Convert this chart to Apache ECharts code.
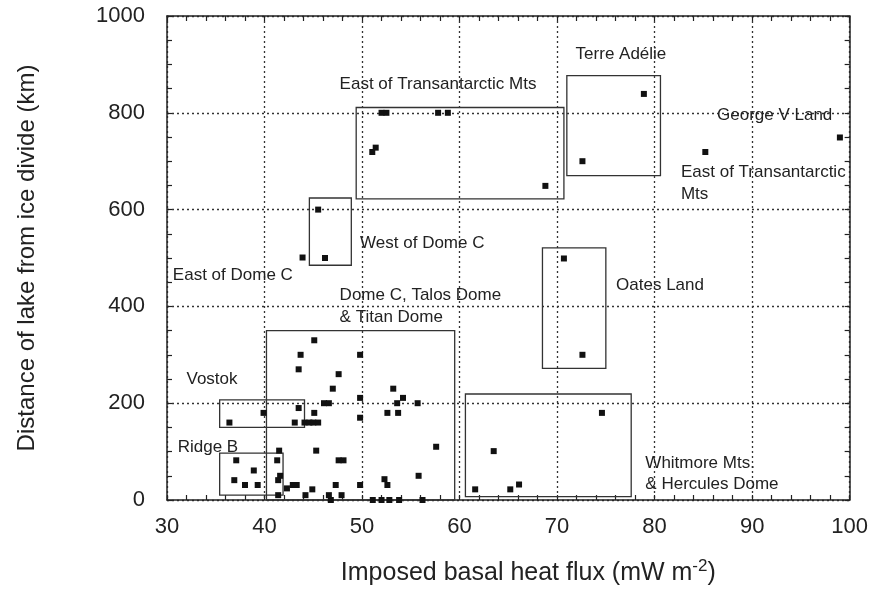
<!DOCTYPE html>
<html>
<head>
<meta charset="utf-8">
<script src="https://cdn.jsdelivr.net/npm/echarts@6/dist/echarts.min.js"></script>
<style>
html,body{margin:0;padding:0;background:#fff;overflow:hidden;width:871px;height:591px;}
#c{width:871px;height:591px;position:absolute;left:0;top:0;}
</style>
</head>
<body>
<div id="c"></div>
<script>
// Lakes: [imposed basal heat flux (mW m-2), distance from ice divide (km)]
var lakes = [
  [43.7,300],[43.5,270],[39.9,180],[43.5,190],[36.4,160],[43.1,160],[44.1,160],
  [44.6,160],[45.0,160],[45.5,160],[41.5,102],[37.1,82],[41.3,82],[38.9,61],
  [41.6,50],[36.9,41],[41.4,41],[38.0,31],[39.3,31],[41.4,10],[42.3,24],
  [42.9,31],[43.3,31],[44.2,10],[45.1,330],[49.8,300],[47.6,260],[47.0,230],
  [49.8,211],[53.2,230],[54.2,211],[53.6,200],[46.1,200],[46.6,200],[55.7,200],
  [45.1,180],[52.6,180],[53.7,180],[49.8,170],[45.3,102],[47.6,82],[48.1,82],
  [57.6,110],[55.8,50],[52.3,43],[52.6,31],[47.3,31],[49.8,31],[44.9,22],
  [46.6,10],[46.8,0],[47.9,10],[51.1,0],[52.0,0],[52.8,0],[53.8,0],[56.2,0],
  [45.5,600],[43.9,501],[46.2,500],
  [52.0,800],[52.5,800],[57.8,800],[58.8,800],[51.4,728],[51.05,719],[68.8,649],
  [72.6,700],[78.9,839],[85.2,719],[99.0,749],
  [70.7,499],[72.6,300],
  [61.6,22],[63.5,101],[65.2,22],[66.1,32],[74.6,180]
];
// Region boxes: [xMin, yMin, xMax, yMax]
var boxes = [
  [49.4,622,70.7,811],
  [71.0,670,80.6,877],
  [44.6,485,48.9,624],
  [40.2,0,59.5,350],
  [68.5,272,75.0,521],
  [35.4,150,44.1,207],
  [35.4,10,41.9,97],
  [60.6,7,77.6,219]
];
// Region labels: [x, y, text] (left edge, vertical middle)
var regionLabels = [
  [47.7,859,'East of Transantarctic Mts'],
  [71.9,920,'Terre Adélie'],
  [86.4,795,'George V Land'],
  [82.7,678,'East of Transantarctic'],
  [82.7,632,'Mts'],
  [49.8,530,'West of Dome C'],
  [30.6,465,'East of Dome C'],
  [47.7,423,'Dome C, Talos Dome'],
  [47.7,377,'& Titan Dome'],
  [76.05,443,'Oates Land'],
  [32.0,249,'Vostok'],
  [31.1,109,'Ridge B'],
  [79.05,76,'Whitmore Mts.'],
  [79.05,33,'& Hercules Dome']
];
var xTicks = {min:30, max:100, interval:10};
var yTicks = {min:0, max:1000, interval:200};

var FONT = '"Liberation Sans", Arial, Helvetica, sans-serif';
var INK = '#222';

function axisBase(t, split, minorN){
  return {
    type:'value', min:t.min, max:t.max, interval:t.interval,
    axisLine:{show:true, onZero:false, lineStyle:{color:INK, width:1.5}},
    axisTick:{show:true, inside:true, length:5, lineStyle:{color:INK, width:1.2}},
    minorTick:{show:true, splitNumber:minorN, length:5, lineStyle:{color:INK, width:1.2}},
    minorSplitLine:{show:false},
    splitLine:{show:split, lineStyle:{color:'#333', type:[2,3], width:1.3}}
  };
}
function plain(v){ return String(v); }

var xMain = axisBase(xTicks, true, 5);
xMain.position = 'bottom';
xMain.axisLabel = {color:INK, fontSize:22, fontFamily:FONT, margin:16, formatter:plain};
xMain.name = '{a|Imposed basal heat flux (mW m}{s|-2}{a|)}';
xMain.nameLocation = 'middle';
xMain.nameGap = 58;
xMain.nameTextStyle = {padding:[0,0,0,40], rich:{
  a:{fontSize:25, fontFamily:FONT, color:INK, verticalAlign:'bottom', lineHeight:28},
  s:{fontSize:17, fontFamily:FONT, color:INK, verticalAlign:'top', lineHeight:28, padding:[0,0,9,0]}
}};
var xTop = axisBase(xTicks, false, 5);
xTop.position = 'top';
xTop.axisLabel = {show:false};

var yMain = axisBase(yTicks, true, 4);
yMain.position = 'left';
yMain.axisLabel = {color:INK, fontSize:22, fontFamily:FONT, margin:22, formatter:plain};
yMain.name = 'Distance of lake from ice divide (km)';
yMain.nameLocation = 'middle';
yMain.nameGap = 128;
yMain.nameTextStyle = {fontSize:24, fontFamily:FONT, color:INK};
var yRight = axisBase(yTicks, false, 4);
yRight.position = 'right';
yRight.axisLabel = {show:false};

var chart = echarts.init(document.getElementById('c'), null, {renderer:'canvas', width:871, height:591});
chart.setOption({
  backgroundColor:'#fff',
  animation:false,
  grid:{left:167, right:9, top:16, bottom:84, containLabel:false},
  xAxis:[xMain, xTop],
  yAxis:[yMain, yRight],
  series:[
    {
      type:'scatter', xAxisIndex:0, yAxisIndex:0,
      symbol:'rect', symbolSize:6,
      itemStyle:{color:'#111', opacity:1},
      data:lakes,
      z:5,
      markArea:{
        silent:true,
        itemStyle:{color:'rgba(0,0,0,0)', borderColor:'#333', borderWidth:1.3},
        data:boxes.map(function(b){return [{coord:[b[0],b[1]]},{coord:[b[2],b[3]]}];})
      }
    },
    {
      type:'scatter', xAxisIndex:0, yAxisIndex:0,
      symbolSize:0, silent:true,
      itemStyle:{opacity:1},
      data:regionLabels.map(function(r){return {value:[r[0],r[1]], name:r[2]};}),
      label:{show:true, position:[0,0], align:'left', verticalAlign:'middle',
        formatter:function(p){return p.name;},
        fontSize:17, fontFamily:FONT, color:INK, opacity:1},
      z:6
    }
  ]
});
</script>
</body>
</html>
